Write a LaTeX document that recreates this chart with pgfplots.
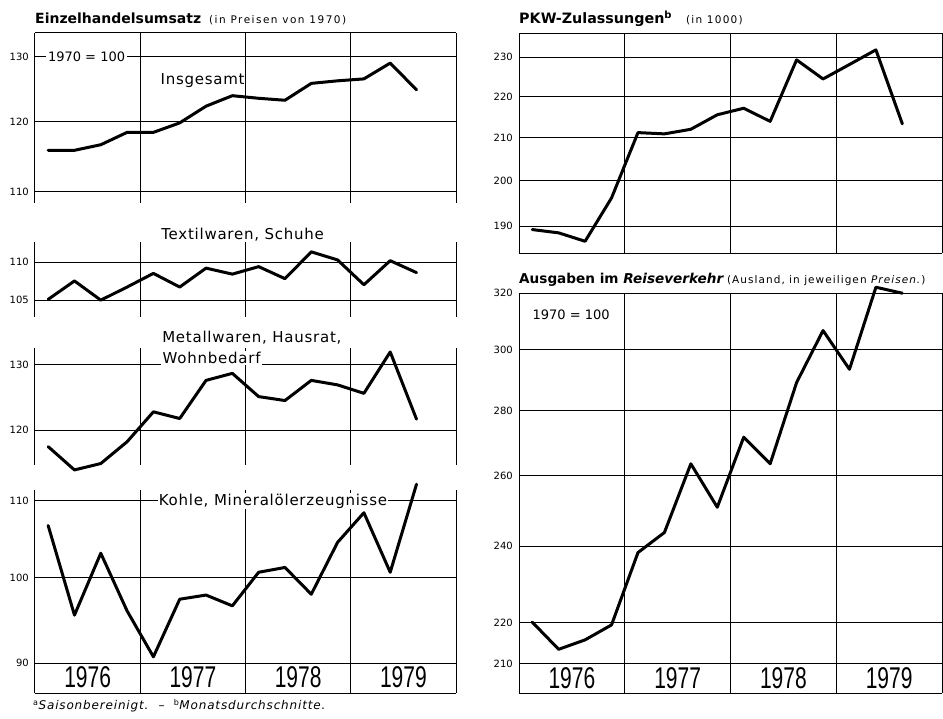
\documentclass[border=0pt]{standalone}
\usepackage{fontspec}
\setmainfont{DejaVu Sans}
\newfontfamily\yearfont[FakeStretch=0.7]{Liberation Sans}
\usepackage{pgfplots}
\usepackage{pgfplotstable}
\pgfplotsset{compat=1.18}

\pgfplotstableread{
x y
0.5 115.8
1.5 115.8
2.5 116.6
3.5 118.4
4.5 118.4
5.5 119.8
6.5 122.3
7.5 123.9
8.5 123.5
9.5 123.2
10.5 125.8
11.5 126.2
12.5 126.5
13.5 129.0
14.5 124.8
}\tabA
\pgfplotstableread{
x y
0.5 105.1
1.5 107.5
2.5 105.0
3.5 106.7
4.5 108.5
5.5 106.7
6.5 109.2
7.5 108.4
8.5 109.4
9.5 107.8
10.5 111.4
11.5 110.3
12.5 107.0
13.5 110.2
14.5 108.6
}\tabB
\pgfplotstableread{
x y
0.5 117.6
1.5 114.3
2.5 115.2
3.5 118.3
4.5 122.7
5.5 121.7
6.5 127.5
7.5 128.6
8.5 125.0
9.5 124.4
10.5 127.5
11.5 126.8
12.5 125.5
13.5 132.0
14.5 121.6
}\tabC
\pgfplotstableread{
x y
0.5 106.7
1.5 95.5
2.5 103.1
3.5 96.0
4.5 90.7
5.5 97.4
6.5 97.9
7.5 96.6
8.5 100.7
9.5 101.3
10.5 98.0
11.5 104.5
12.5 108.4
13.5 100.7
14.5 112.3
}\tabD
\pgfplotstableread{
x y
0.5 189.3
1.5 188.6
2.5 186.8
3.5 196.2
4.5 211.2
5.5 210.9
6.5 212.0
7.5 215.5
8.5 217.1
9.5 213.9
10.5 229.3
11.5 224.4
12.5 228.1
13.5 231.9
14.5 213.3
}\tabE
\pgfplotstableread{
x y
0.5 220.2
1.5 213.5
2.5 215.8
3.5 219.5
4.5 238.3
5.5 243.8
6.5 263.6
7.5 250.9
8.5 271.7
9.5 263.6
10.5 289.1
11.5 306.7
12.5 293.5
13.5 322.2
14.5 320.0
}\tabF

\tikzset{
  mylab/.style={font=\fontsize{15}{17}\selectfont\addfontfeature{LetterSpace=5}},
  myyr/.style={font=\yearfont\fontsize{30}{30}\selectfont},
}

\begin{document}
\begin{tikzpicture}
\useasboundingbox (0,0) rectangle (943pt,719pt);

% titles
\node[anchor=base west, inner sep=0pt] at (35pt,695.5pt)
  {\fontsize{14}{15}\selectfont\textbf{Einzelhandelsumsatz}\hspace{8pt}{\fontsize{10.5}{10}\selectfont\addfontfeature{LetterSpace=14}(in Preisen von 1970)}};
\node[anchor=base west, inner sep=0pt] at (519pt,695.5pt)
  {\fontsize{14.3}{15}\selectfont\textbf{PKW-Zulassungen}\textsuperscript{\textbf{b}}\hspace{14pt}{\fontsize{10.5}{10}\selectfont\addfontfeature{LetterSpace=12}(in 1000)}};
\node[anchor=base west, inner sep=0pt] at (519pt,435.7pt)
  {\fontsize{13.6}{14}\selectfont\textbf{Ausgaben im \textit{Reiseverkehr}}\hspace{3pt}{\fontsize{10.5}{10}\selectfont\addfontfeature{LetterSpace=10}(Ausland, in jeweiligen \textit{Preisen.})}};
\node[anchor=base west, inner sep=0pt] at (33pt,9pt)
  {\fontsize{12}{12}\selectfont\addfontfeature{LetterSpace=7}\textsuperscript{a}\textit{Saisonbereinigt.}\ \ --\ \ \textsuperscript{b}\textit{Monatsdurchschnitte.}};

% Panel 1: Insgesamt
\begin{axis}[scale only axis, anchor=south west, ymode=log, xmin=0, xmax=16,
  xtick={0,4,8,12,16}, xticklabels={}, xmajorgrids, ymajorgrids, minor y tick num=0,
  major tick length=0pt, axis line style={draw=none}, grid style={black, line width=1pt, solid},
  yticklabel style={font=\fontsize{10}{10}\selectfont, inner sep=0pt, xshift=-6pt}, clip=false,
  at={(35pt,516pt)}, width=421pt, height=170pt,
  ymin=108.5, ymax=133.9, ytick={110,120,130}, yticklabels={110,120,130}]
\addplot[black, line width=3pt, line join=round, line cap=round, no markers] table {\tabA};
\draw[line width=1pt] (rel axis cs:0,1) -- (rel axis cs:1,1);
\node[fill=white, inner sep=2pt, font=\fontsize{13}{13}\selectfont] at (axis cs:1.96,130) {1970 = 100};
\node[mylab] at (axis cs:6.37,126.3) {Insgesamt};
\end{axis}

% Panel 2: Textilwaren
\begin{axis}[scale only axis, anchor=south west, ymode=log, xmin=0, xmax=16,
  xtick={0,4,8,12,16}, xticklabels={}, xmajorgrids, ymajorgrids, minor y tick num=0,
  major tick length=0pt, axis line style={draw=none}, grid style={black, line width=1pt, solid},
  yticklabel style={font=\fontsize{10}{10}\selectfont, inner sep=0pt, xshift=-6pt}, clip=false,
  at={(35pt,402.3pt)}, width=421pt, height=75pt,
  ymin=102.9, ymax=112.8, ytick={105,110}, yticklabels={105,110}]
\addplot[black, line width=3pt, line join=round, line cap=round, no markers] table {\tabB};
\node[mylab] at (axis cs:7.89,113.8) {Textilwaren, Schuhe};
\end{axis}

% Panel 3: Metallwaren
\begin{axis}[scale only axis, anchor=south west, ymode=log, xmin=0, xmax=16,
  xtick={0,4,8,12,16}, xticklabels={}, xmajorgrids, ymajorgrids, minor y tick num=0,
  major tick length=0pt, axis line style={draw=none}, grid style={black, line width=1pt, solid},
  yticklabel style={font=\fontsize{10}{10}\selectfont, inner sep=0pt, xshift=-6pt}, clip=false,
  at={(35pt,254pt)}, width=421pt, height=116.7pt,
  ymin=115.0, ymax=132.6, ytick={120,130}, yticklabels={120,130}]
\addplot[black, line width=3pt, line join=round, line cap=round, no markers] table {\tabC};
\node[mylab, anchor=west, inner sep=0pt] at (axis cs:4.83,134.4) {Metallwaren, Hausrat,};
\node[mylab, anchor=west, fill=white, inner sep=1.5pt] at (axis cs:4.79,131.0) {Wohnbedarf};
\end{axis}

% Panel 4: Kohle
\begin{axis}[scale only axis, anchor=south west, ymode=log, xmin=0, xmax=16,
  xtick={0,4,8,12,16}, xticklabels={}, xmajorgrids, ymajorgrids, minor y tick num=0,
  major tick length=0pt, axis line style={draw=none}, grid style={black, line width=1pt, solid},
  yticklabel style={font=\fontsize{10}{10}\selectfont, inner sep=0pt, xshift=-6pt}, clip=false,
  at={(35pt,25.7pt)}, width=421pt, height=203.3pt,
  ymin=86.7, ymax=111.5, ytick={90,100,110}, yticklabels={90,100,110}]
\addplot[black, line width=3pt, line join=round, line cap=round, no markers] table {\tabD};
\draw[line width=1pt] (rel axis cs:0,0) -- (rel axis cs:1,0);
\node[mylab, anchor=west, fill=white, inner sep=1pt] at (axis cs:4.66,110) {Kohle, Mineralölerzeugnisse};
\node[myyr] at (axis cs:2,88.4) {1976};
\node[myyr] at (axis cs:6,88.4) {1977};
\node[myyr] at (axis cs:10,88.4) {1978};
\node[myyr] at (axis cs:14,88.4) {1979};
\end{axis}

% PKW
\begin{axis}[scale only axis, anchor=south west, ymode=log, xmin=0, xmax=16,
  xtick={0,4,8,12,16}, xticklabels={}, xmajorgrids, ymajorgrids, minor y tick num=0,
  major tick length=0pt, axis line style={draw=none}, grid style={black, line width=1pt, solid},
  yticklabel style={font=\fontsize{10}{10}\selectfont, inner sep=0pt, xshift=-6pt}, clip=false,
  at={(519pt,465.7pt)}, width=423pt, height=220pt,
  ymin=184.3, ymax=236.3, ytick={190,200,210,220,230}, yticklabels={190,200,210,220,230}]
\addplot[black, line width=3pt, line join=round, line cap=round, no markers] table {\tabE};
\draw[line width=1pt] (rel axis cs:0,1) -- (rel axis cs:1,1);
\draw[line width=1pt] (rel axis cs:0,0) -- (rel axis cs:1,0);
\end{axis}

% Ausgaben
\begin{axis}[scale only axis, anchor=south west, ymode=log, xmin=0, xmax=16,
  xtick={0,4,8,12,16}, xticklabels={}, xmajorgrids, ymajorgrids, minor y tick num=0,
  major tick length=0pt, axis line style={draw=none}, grid style={black, line width=1pt, solid},
  yticklabel style={font=\fontsize{10}{10}\selectfont, inner sep=0pt, xshift=-6pt}, clip=false,
  at={(519pt,25.7pt)}, width=423pt, height=400pt,
  ymin=203.1, ymax=320, ytick={210,220,240,260,280,300,320}, yticklabels={210,220,240,260,280,300,320}]
\addplot[black, line width=3pt, line join=round, line cap=round, no markers] table {\tabF};
\draw[line width=1pt] (rel axis cs:0,0) -- (rel axis cs:1,0);
\node[font=\fontsize{13}{13}\selectfont] at (axis cs:1.97,312.2) {1970 = 100};
\node[myyr] at (axis cs:2,206.5) {1976};
\node[myyr] at (axis cs:6,206.5) {1977};
\node[myyr] at (axis cs:10,206.5) {1978};
\node[myyr] at (axis cs:14,206.5) {1979};
\end{axis}
\end{tikzpicture}
\end{document}
